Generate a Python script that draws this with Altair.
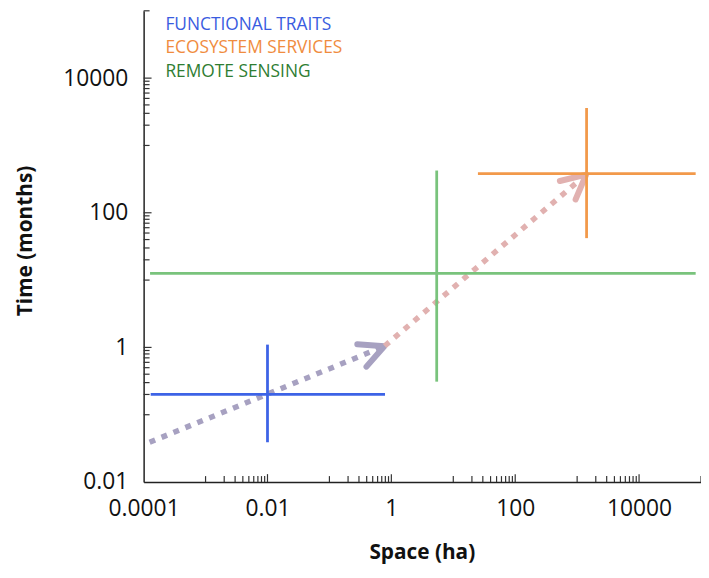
import math
import altair as alt
import pandas as pd

# ---- data -------------------------------------------------------------------
categories = ["FUNCTIONAL TRAITS", "ECOSYSTEM SERVICES", "REMOTE SENSING"]
x_center = [0.01, 1420, 5.4]
x_low = [1.3e-4, 25, 1.27e-4]
x_high = [0.79, 82000, 82000]
y_center = [0.2, 380, 12.6]
y_low = [0.039, 42, 0.31]
y_high = [1.1, 3600, 424]

line_colors = ["#3d63e6", "#f2994a", "#79c37c"]
text_colors = ["#3a5ce0", "#f08c3e", "#2e7d32"]

arrow_x0 = [1.25e-4, 0.78]
arrow_y0 = [0.039, 1.05]
arrow_x1 = [0.77, 1400]
arrow_y1 = [1.04, 370]
arrow_colors = ["#a7a1c1", "#e1b1b0"]

x_major = [1e-4, 1e-2, 1, 100, 1e4]
y_major = [1e-2, 1, 100, 1e4]
minor_mult = [1, 2, 3, 4, 5, 6, 7, 8, 9]
x_minor_dec = [-3, -1, 1, 3]
y_minor_dec = [-1, 1, 3]
x_minor = [m * 10.0 ** k for k in x_minor_dec for m in minor_mult] + [1e5]
y_minor = [m * 10.0 ** k for k in y_minor_dec for m in minor_mult] + [1e5]

X_DOMAIN = [1e-4, 1e5]
Y_DOMAIN = [1e-2, 1e5]
W, H = 563, 476

FONT = "Open Sans"

xs = alt.Scale(type="log", domain=X_DOMAIN, nice=False)
ys = alt.Scale(type="log", domain=Y_DOMAIN, nice=False)

x_axis = alt.Axis(values=x_major, format="~g", title="Space (ha)", grid=False,
                  ticks=False, tickSize=0, labelPadding=16, labelFlush=False,
                  labelOverlap=False, titleX=281, titleY=71,
                  titleBaseline="middle", titleAlign="center")
y_axis = alt.Axis(values=y_major, format="~g", title="Time (months)", grid=False,
                  ticks=False, tickSize=0, labelPadding=16, labelFlush=False,
                  labelOverlap=False, titleX=-119, titleY=232, titleAngle=270,
                  titleBaseline="middle", titleAlign="center")


def X(field):
    return alt.X(field, type="quantitative", scale=xs, axis=x_axis)


def Y(field):
    return alt.Y(field, type="quantitative", scale=ys, axis=y_axis)


layers = []

# ---- arrows ----------------------------------------------------------------
for i in range(len(arrow_x0)):
    seg = pd.DataFrame({"x": [arrow_x0[i], arrow_x1[i]],
                        "y": [arrow_y0[i], arrow_y1[i]]})
    layers.append(
        alt.Chart(seg).mark_line(strokeDash=[6, 7], strokeWidth=5.5,
                                 strokeCap="butt", color=arrow_colors[i])
        .encode(x=X("x"), y=Y("y"))
    )
    dx = (math.log10(arrow_x1[i]) - math.log10(arrow_x0[i])) * W / 9
    dy = (math.log10(arrow_y1[i]) - math.log10(arrow_y0[i])) * H / 7
    ang = (360 - math.degrees(math.atan2(dy, dx))) % 360
    tip = pd.DataFrame({"x": [arrow_x1[i]], "y": [arrow_y1[i]]})
    layers.append(
        alt.Chart(tip).mark_point(shape="M -1 -0.5 L 0 0 L -1 0.5", filled=False,
                                  size=2400, strokeWidth=6, strokeCap="round",
                                  strokeJoin="round", angle=ang,
                                  color=arrow_colors[i], opacity=1)
        .encode(x=X("x"), y=Y("y"))
    )

# ---- crosses ---------------------------------------------------------------
cross = pd.DataFrame({"category": categories, "xc": x_center, "xl": x_low,
                      "xh": x_high, "yc": y_center, "yl": y_low, "yh": y_high})
color = alt.Color("category:N", scale=alt.Scale(domain=categories, range=line_colors),
                  legend=None)
layers.append(
    alt.Chart(cross).mark_rule(strokeWidth=2.8)
    .encode(x=X("xl"), x2="xh", y=Y("yc"), color=color)
)
layers.append(
    alt.Chart(cross).mark_rule(strokeWidth=2.8)
    .encode(x=X("xc"), y=Y("yl"), y2="yh", color=color)
)

# ---- inside tick marks -----------------------------------------------------
TICK_COLOR = "#333333"
for vals, length in ((x_major[1:], 8), (x_minor, 6)):
    layers.append(
        alt.Chart(pd.DataFrame({"v": vals})).mark_rule(color=TICK_COLOR, strokeWidth=1.2)
        .encode(x=X("v"), y=alt.value(H), y2=alt.value(H - length))
    )
for vals, length in ((y_major[1:], 8), (y_minor, 6)):
    layers.append(
        alt.Chart(pd.DataFrame({"v": vals})).mark_rule(color=TICK_COLOR, strokeWidth=1.2)
        .encode(y=Y("v"), x=alt.value(0), x2=alt.value(length))
    )

# ---- legend text -----------------------------------------------------------
for i, name in enumerate(categories):
    layers.append(
        alt.Chart(pd.DataFrame({"name": [name]}))
        .mark_text(align="left", baseline="middle", font=FONT, fontSize=17.5,
                   color=text_colors[i])
        .encode(text="name:N", x=alt.value(22), y=alt.value(14 + i * 23.7))
    )

chart = (
    alt.layer(*layers)
    .properties(width=W, height=H, autosize=alt.AutoSizeParams(type="none"),
                padding={"left": 137, "top": 0, "right": 0, "bottom": 86},
                background="white")
    .configure_view(stroke=None)
    .configure_axis(domainColor="#222222", domainWidth=1.5,
                    labelFont=FONT, labelFontSize=23, labelColor="#111111",
                    titleFont=FONT, titleFontSize=21, titleFontWeight="bold",
                    titleColor="#111111")
)

chart.save("out.html", embed_options={"renderer": "svg", "actions": False})
